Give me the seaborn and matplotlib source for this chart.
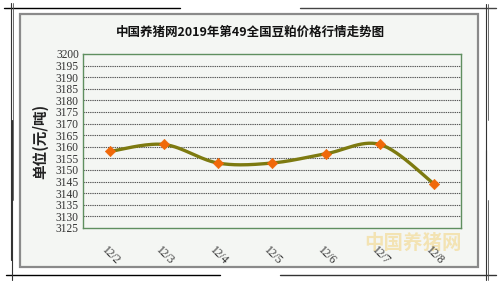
import numpy as np
import pandas as pd
import matplotlib
matplotlib.use("Agg")
import matplotlib.pyplot as plt
import seaborn as sns
from matplotlib.lines import Line2D
from matplotlib.patches import Rectangle

dates = ["12/2", "12/3", "12/4", "12/5", "12/6", "12/7", "12/8"]
prices = [3158, 3161, 3153, 3153, 3157, 3161, 3144]
yticks = list(range(3125, 3201, 5))
title = "中国养猪网2019年第49全国豆粕价格行情走势图"
ylabel = "单位(元/吨)"

sns.set_theme(style="white")
plt.rcParams['font.family'] = ['Noto Sans CJK SC', 'DejaVu Sans']

fig = plt.figure(figsize=(5, 2.83), dpi=100)
fig.patch.set_facecolor("white")

# panel
panel = Rectangle((20/500, 1-267/283), (478-20)/500, (267-14)/283, transform=fig.transFigure,
                  facecolor="#f4f6f3", edgecolor="#8a8a8a", linewidth=1.6, zorder=-5)
fig.add_artist(panel)
# decorative corner lines
def fl(x0, y0, x1, y1, **kw):
    fig.add_artist(Line2D([x0/500, x1/500], [1-y0/283, 1-y1/283], transform=fig.transFigure, zorder=-4, **kw))
fl(4, 8, 180, 8, color="black", lw=1.0)
fl(11, 3, 11, 260, color="#333", lw=0.8)
fl(13, 3, 13, 200, color="#555", lw=0.6)
fl(300, 8, 496, 8, color="#444", lw=1.0)
fl(486, 4, 486, 180, color="#333", lw=0.8)
fl(488, 4, 488, 120, color="#555", lw=0.6)
fl(6, 275, 220, 275, color="black", lw=1.0)
fl(12, 120, 12, 280, color="#333", lw=0.8)
fl(280, 275, 496, 275, color="#333", lw=1.0)
fl(486, 150, 486, 280, color="#333", lw=0.8)
fl(488, 200, 488, 280, color="#555", lw=0.6)

fig.text(0.825, 1-243/283, "中国养猪网", ha="center", va="center", fontsize=14, fontweight="bold",
         color="#f3e0a8", alpha=0.85, zorder=-3)

ax = fig.add_axes([83/500, 1-228/283, (461-83)/500, (228-54)/283])
ax.set_zorder(5)
ax.set_facecolor("#f4f6f3")

x = np.arange(len(dates))
y = np.array(prices, dtype=float)

# Catmull-Rom smoothing for display of the line (Excel-style smoothed line)
pts_x, pts_y = [], []
px = np.concatenate([[x[0]], x, [x[-1]]])
py = np.concatenate([[y[0]], y, [y[-1]]])
for i in range(1, len(px) - 2):
    t = np.linspace(0, 1, 30)
    p0, p1, p2, p3 = py[i-1], py[i], py[i+1], py[i+2]
    q0, q1, q2, q3 = px[i-1], px[i], px[i+1], px[i+2]
    h = lambda a0, a1, a2, a3: 0.5*((2*a1) + (-a0+a2)*t + (2*a0-5*a1+4*a2-a3)*t**2 + (-a0+3*a1-3*a2+a3)*t**3)
    pts_x.extend(h(q0, q1, q2, q3)); pts_y.extend(h(p0, p1, p2, p3))
smooth = pd.DataFrame({"x": pts_x, "y": pts_y})
sns.lineplot(data=smooth, x="x", y="y", ax=ax, color="#7d7a10", linewidth=2.4, sort=False, zorder=3)

df = pd.DataFrame({"x": x, "y": y})
sns.scatterplot(data=df, x="x", y="y", ax=ax, marker="D", color="#f0680a", s=28,
                edgecolor="#f0680a", zorder=4)

ax.set_xlim(-0.5, len(dates) - 0.5)
ax.set_ylim(3125, 3200)
ax.set_yticks(yticks)
ax.set_yticklabels([str(v) for v in yticks], fontsize=8.3, color="#333333", family=["Liberation Serif"])
ax.set_xticks(x)
ax.set_xticklabels(dates, rotation=-45, ha="center", va="top", fontsize=8.3,
                   color="#333333", family=["Liberation Serif"])
ax.set_xticks(np.arange(-0.5, len(dates)), minor=True)
ax.tick_params(axis="x", which="major", length=0, pad=11)
ax.tick_params(axis="x", which="minor", length=4, color="#5a8a5a", direction="in")
ax.tick_params(axis="y", length=0, pad=3)
for yt in yticks[1:-1]:
    ax.axhline(yt, color="#555555", lw=0.8, ls=(0, (1.2, 0.8)), zorder=1)
for s in ax.spines.values():
    s.set_color("#5f8f5f")
    s.set_linewidth(1.0)
ax.set_xlabel("")
ax.set_ylabel(ylabel, fontsize=10.5, fontweight="bold", color="#222222", labelpad=5)

fig.text(0.5, 1-32/283, title, ha="center", va="center", fontsize=9, fontweight="bold", color="#111111")

fig.savefig("out.png", dpi=100, facecolor="white")
